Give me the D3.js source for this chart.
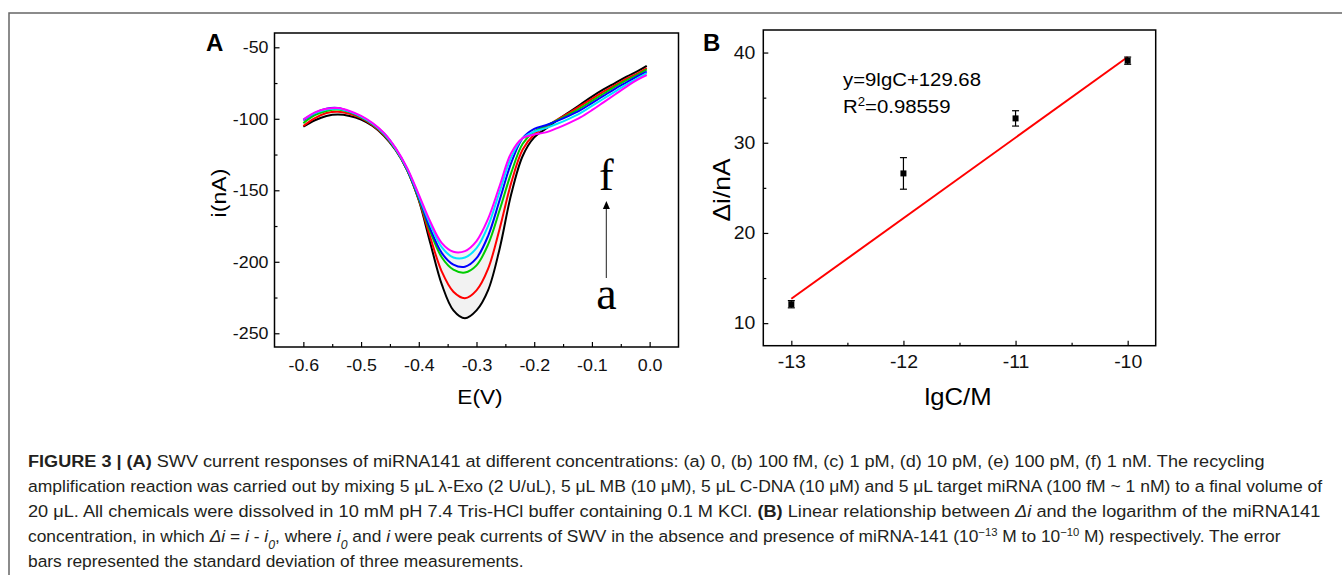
<!DOCTYPE html>
<html>
<head>
<meta charset="utf-8">
<script src="https://cdn.jsdelivr.net/npm/d3@7"></script>
<style>
  body { margin: 0; background: #fff; }
  svg { display: block; font-family: "Liberation Sans", Arial, sans-serif; }
</style>
</head>
<body>
<svg id="fig" width="1342" height="575"></svg>
<script>
// ---- panel A: SWV curves, potential E (V) vs current i (nA)
const potential = [-0.60, -0.58, -0.56, -0.54, -0.52, -0.50, -0.48, -0.46, -0.44, -0.42,
  -0.40, -0.38, -0.36, -0.34, -0.32, -0.30, -0.28, -0.26, -0.24, -0.22,
  -0.20, -0.18, -0.16, -0.14, -0.12, -0.10, -0.08, -0.06, -0.04, -0.02, -0.005];

const curveA = [-105.5, -101, -98, -97, -98, -100.5, -105, -112, -122, -136,
  -157, -187, -216, -234, -239.5, -234, -220, -191, -153, -126,
  -113, -107, -101, -95.5, -90, -84.5, -79.5, -75, -70.5, -66.5, -63];
const curveB = [-105, -99.5, -96, -95, -96.5, -99.5, -104.5, -111.5, -121.5, -136,
  -156.5, -183, -207, -221, -225.5, -220, -205, -177, -145, -121.5,
  -111, -105.5, -100.5, -96, -91, -86, -81, -76.5, -72, -68, -64.5];
const curveC = [-103, -97.5, -94.5, -93.5, -95.5, -99, -104, -111, -121.5, -136,
  -156, -179, -197, -205.5, -207.5, -202.5, -188, -164, -138, -117.5,
  -109, -105, -101, -97, -92.5, -87.5, -82.5, -77.5, -73, -69, -65.5];
const curveD = [-101, -96, -93, -92.5, -95, -98.5, -103.5, -110.5, -121, -135.5,
  -155, -177, -194, -202, -203.5, -197.5, -182, -157, -131, -113.5,
  -107, -104.5, -101.5, -98, -94, -89, -84, -79, -74.5, -70, -67];
const curveE = [-100.5, -96, -93.5, -93, -95, -98.5, -103.5, -110.5, -121, -135,
  -154, -174, -190, -197, -197, -190.5, -175, -151, -127, -113.5,
  -109, -106.5, -103.5, -100, -96, -91, -86, -81, -76, -71.5, -68];
const curveF = [-100.5, -95.5, -93, -92.5, -94.5, -98, -103, -110, -120.5, -134.5,
  -153, -172, -187, -193, -192.5, -185.5, -170, -147, -124, -113.5,
  -111, -109.5, -106.5, -103, -99, -94, -88.5, -83, -77.5, -72.5, -69.5];

const curveList = [curveA, curveB, curveC, curveD, curveE, curveF];
const curveColors = ["#000000", "#ff0000", "#00cc00", "#0000ff", "#00e5ff", "#ff00ff"];

const aTicksX = [-0.6, -0.5, -0.4, -0.3, -0.2, -0.1, 0.0];
const aTicksY = [-50, -100, -150, -200, -250];

// ---- panel B: calibration, lgC vs delta i
const lgC = [-13, -12, -11, -10];
const deltaI = [12.1, 26.6, 32.7, 39.1];
const deltaErr = [0.4, 1.75, 0.85, 0.4];
const fitX = [-13, -10];
const fitY = [12.7, 39.5];
const bTicksX = [-13, -12, -11, -10];
const bTicksY = [10, 20, 30, 40];

// ---- caption, one array per printed line: [text, style]
const captionLines = [
  [["FIGURE 3 | (A)", "b"], [" SWV current responses of miRNA141 at different concentrations: (a) 0, (b) 100 fM, (c) 1 pM, (d) 10 pM, (e) 100 pM, (f) 1 nM. The recycling", ""]],
  [["amplification reaction was carried out by mixing 5 μL λ-Exo (2 U/uL), 5 μL MB (10 μM), 5 μL C-DNA (10 μM) and 5 μL target miRNA (100 fM ~ 1 nM) to a final volume of", ""]],
  [["20 μL. All chemicals were dissolved in 10 mM pH 7.4 Tris-HCl buffer containing 0.1 M KCl. ", ""], ["(B)", "b"], [" Linear relationship between ", ""], ["Δi", "i"], [" and the logarithm of the miRNA141", ""]],
  [["concentration, in which ", ""], ["Δi", "i"], [" = ", ""], ["i", "i"], [" - ", ""], ["i", "i"], ["0", "sub"], [", where ", ""], ["i", "i"], ["0", "sub"], [" and ", ""], ["i", "i"],
   [" were peak currents of SWV in the absence and presence of miRNA-141 (10", ""], ["−13", "sup"], [" M to 10", ""], ["−10", "sup"], [" M) respectively. The error", ""]],
  [["bars represented the standard deviation of three measurements.", ""]]
];
const captionEnds = [1266, 1323, 1321, 1281, null];

const svg = d3.select("#fig");

// outer figure box
svg.append("path")
  .attr("d", "M9,575 L9,13 L1342,13")
  .attr("fill", "none").attr("stroke", "#666").attr("stroke-width", 1.5);

// stretch text horizontally around its own anchor point
function stretch(sel, sx) {
  sel.each(function () {
    const t = d3.select(this);
    const x = +t.attr("x") || 0, y = +t.attr("y") || 0;
    t.attr("x", 0).attr("y", 0).attr("transform", `translate(${x},${y}) scale(${sx},1)`);
  });
}

function frame(g, x, y) {
  g.append("rect")
    .attr("x", x.range()[0]).attr("y", y.range()[1])
    .attr("width", x.range()[1] - x.range()[0])
    .attr("height", y.range()[0] - y.range()[1])
    .attr("fill", "none").attr("stroke", "#000").attr("stroke-width", 1.5);
}

function axes(g, x, y, opt) {
  const bottom = y.range()[0], left = x.range()[0];
  // minor ticks
  g.append("g").attr("transform", `translate(0,${bottom})`)
    .call(d3.axisBottom(x).tickValues(opt.minorX).tickSize(-3).tickFormat(""))
    .call(s => s.select(".domain").remove());
  g.append("g").attr("transform", `translate(${left},0)`)
    .call(d3.axisLeft(y).tickValues(opt.minorY).tickSize(-3).tickFormat(""))
    .call(s => s.select(".domain").remove());
  // major ticks
  const gx = g.append("g").attr("transform", `translate(0,${bottom})`)
    .call(d3.axisBottom(x).tickValues(opt.ticksX).tickSize(-5).tickPadding(opt.padX).tickFormat(opt.fmtX))
    .call(s => s.select(".domain").remove());
  const gy = g.append("g").attr("transform", `translate(${left},0)`)
    .call(d3.axisLeft(y).tickValues(opt.ticksY).tickSize(-5).tickPadding(opt.padY).tickFormat(opt.fmtY))
    .call(s => s.select(".domain").remove());
  g.selectAll(".tick line").attr("stroke", "#000").attr("stroke-width", 1.2);
  [gx, gy].forEach(a => a.selectAll("text")
    .attr("font-size", opt.fs).attr("fill", "#111").attr("font-family", "Liberation Sans, Arial, sans-serif"));
  stretch(gx.selectAll("text"), opt.sx);
  stretch(gy.selectAll("text"), opt.sx);
}

const minus = d => (d < 0 ? "-" : "") + Math.abs(d);

// ================= panel A =================
const ax = d3.scaleLinear().domain([-0.65, 0.05]).range([274.5, 678.5]);
const ay = d3.scaleLinear().domain([-259.6, -40]).range([347, 33]);
const gA = svg.append("g");

// faint shading inside the trough between outer and inner curves
gA.append("path")
  .datum(potential.map((e, i) => [e, curveA[i], curveF[i]]).filter(d => d[0] >= -0.40 && d[0] <= -0.24))
  .attr("fill", "#f2f2f2")
  .attr("d", d3.area().x(d => ax(d[0])).y0(d => ay(d[1])).y1(d => ay(d[2])).curve(d3.curveCatmullRom));

const lineA = d3.line().x(d => ax(d[0])).y(d => ay(d[1])).curve(d3.curveCatmullRom.alpha(0.5));
curveList.forEach((c, k) => {
  gA.append("path")
    .datum(potential.map((e, i) => [e, c[i]]))
    .attr("fill", "none").attr("stroke", curveColors[k]).attr("stroke-width", 2)
    .attr("d", lineA);
});

frame(gA, ax, ay);
axes(gA, ax, ay, {
  ticksX: aTicksX, ticksY: aTicksY,
  minorX: d3.range(-0.55, 0.0, 0.1), minorY: [-75, -125, -175, -225],
  fmtX: d => d3.format(".1f")(d).replace("−", "-"), fmtY: minus,
  padX: 12, padY: 6, fs: 16.5, sx: 1.08
});

gA.append("text").attr("x", 206).attr("y", 51)
  .attr("font-size", 24).attr("font-weight", "bold").text("A");
gA.append("text").attr("text-anchor", "middle").attr("font-size", 21)
  .attr("transform", "translate(226,193) rotate(-90) scale(1.1,1)").text("i(nA)");
gA.append("text").attr("text-anchor", "middle").attr("font-size", 21)
  .attr("transform", "translate(480,404) scale(1.08,1)").text("E(V)");

// arrow a -> f
const arrowX = ax(-0.075);
gA.append("line").attr("x1", arrowX).attr("x2", arrowX).attr("y1", 278).attr("y2", 207)
  .attr("stroke", "#444").attr("stroke-width", 1.2);
gA.append("path")
  .attr("d", `M${arrowX},201 L${arrowX - 3.5},209 L${arrowX + 3.5},209 Z`).attr("fill", "#000");
gA.append("text").attr("x", arrowX).attr("y", 190).attr("text-anchor", "middle")
  .attr("font-family", "Liberation Serif, Times New Roman, serif").attr("font-size", 44).text("f");
gA.append("text").attr("x", arrowX).attr("y", 309).attr("text-anchor", "middle")
  .attr("font-family", "Liberation Serif, Times New Roman, serif").attr("font-size", 46).text("a");

// ================= panel B =================
const bx = d3.scaleLinear().domain([-13.25, -9.75]).range([763.3, 1155.7]);
const by = d3.scaleLinear().domain([7.5, 42.5]).range([345.7, 30]);
const gB = svg.append("g");

frame(gB, bx, by);
axes(gB, bx, by, {
  ticksX: bTicksX, ticksY: bTicksY,
  minorX: [-12.5, -11.5, -10.5], minorY: [15, 25, 35],
  fmtX: minus, fmtY: d => d,
  padX: 10, padY: 8, fs: 18, sx: 1.08
});

gB.append("line")
  .attr("x1", bx(fitX[0])).attr("y1", by(fitY[0]))
  .attr("x2", bx(fitX[1])).attr("y2", by(fitY[1]))
  .attr("stroke", "#ff0000").attr("stroke-width", 2);

const pts = lgC.map((c, i) => ({ c, v: deltaI[i], e: deltaErr[i] }));
const eb = gB.selectAll(".err").data(pts).enter().append("g").attr("class", "err")
  .attr("stroke", "#000").attr("stroke-width", 1.2);
eb.append("line").attr("x1", d => bx(d.c)).attr("x2", d => bx(d.c))
  .attr("y1", d => by(d.v - d.e)).attr("y2", d => by(d.v + d.e));
eb.append("line").attr("x1", d => bx(d.c) - 3.5).attr("x2", d => bx(d.c) + 3.5)
  .attr("y1", d => by(d.v + d.e)).attr("y2", d => by(d.v + d.e));
eb.append("line").attr("x1", d => bx(d.c) - 3.5).attr("x2", d => bx(d.c) + 3.5)
  .attr("y1", d => by(d.v - d.e)).attr("y2", d => by(d.v - d.e));
gB.selectAll(".pt").data(pts).enter().append("rect").attr("class", "pt")
  .attr("x", d => bx(d.c) - 3).attr("y", d => by(d.v) - 3)
  .attr("width", 6).attr("height", 6).attr("fill", "#000");

gB.append("text").attr("x", 703).attr("y", 51)
  .attr("font-size", 24).attr("font-weight", "bold").text("B");
gB.append("text").attr("text-anchor", "middle").attr("font-size", 23)
  .attr("transform", "translate(730,190) rotate(-90) scale(1.15,1)").text("Δi/nA");
gB.append("text").attr("text-anchor", "middle").attr("font-size", 24)
  .attr("transform", "translate(958,405) scale(1.07,1)").text("lgC/M");
gB.append("text").attr("font-size", 18.5)
  .attr("transform", "translate(843,86) scale(1.1,1)").text("y=9lgC+129.68");
const r2 = gB.append("text").attr("font-size", 18.5)
  .attr("transform", "translate(843,113) scale(1.1,1)");
r2.append("tspan").text("R");
r2.append("tspan").attr("font-size", 12).attr("dy", -7).text("2");
r2.append("tspan").attr("dy", 7).text("=0.98559");

// ================= caption =================
const capX = 28, capY0 = 467, capStep = 25;
let lastScale = 1;
captionLines.forEach((segs, li) => {
  const t = svg.append("text")
    .attr("font-size", 17).attr("fill", "#231f20")
    .attr("font-family", "Liberation Sans, Arial, sans-serif");
  segs.forEach(([s, st]) => {
    const ts = t.append("tspan").text(s);
    if (st === "b") ts.attr("font-weight", "bold");
    if (st === "i") ts.attr("font-style", "italic");
    if (st === "sub") ts.attr("font-size", 12).attr("font-style", "italic").attr("baseline-shift", "sub");
    if (st === "sup") ts.attr("font-size", 11).attr("baseline-shift", "super");
  });
  const w = t.node().getComputedTextLength();
  const sc = captionEnds[li] ? (captionEnds[li] - capX) / w : lastScale;
  lastScale = sc;
  t.attr("transform", `translate(${capX},${capY0 + li * capStep}) scale(${sc},1)`);
});
</script>
</body>
</html>
